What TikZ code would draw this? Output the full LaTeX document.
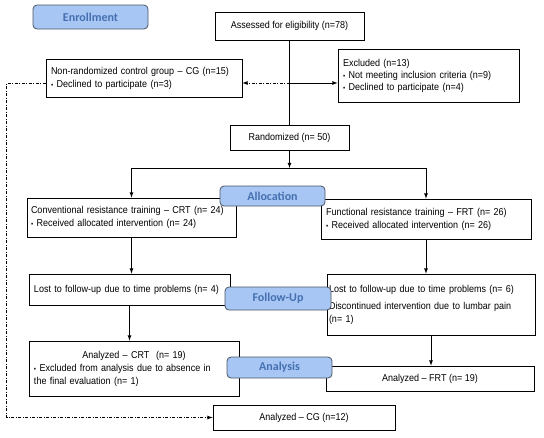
\documentclass[tikz,border=0pt]{standalone}
\usepackage{fontspec}
\setmainfont[FakeStretch=0.9]{Liberation Sans}
\newfontfamily\labelfont{Carlito}
\usepackage{tikz}

\definecolor{labelfill}{HTML}{A8C6F4}
\definecolor{labeldraw}{HTML}{4A5663}
\definecolor{labeltext}{HTML}{4470B0}
\newcommand{\bul}{{\scriptsize\textbullet}\ }

\tikzset{
  box/.style={draw, thick, fill=white, inner xsep=5pt, align=left,
    font=\fontsize{10}{13}\selectfont},
  phase/.style={draw=labeldraw, thick, fill=labelfill, rounded corners=4pt,
    text=labeltext, font=\labelfont\bfseries\fontsize{12}{14}\selectfont},
  dashdot/.style={dash pattern=on 3pt off 1.5pt on 1pt off 1.5pt}
}

\begin{document}
\begin{tikzpicture}[x=1pt, y=-1pt, >=latex, thick]
    \useasboundingbox (0,0) rectangle (544,437);

    % Define nodes
    \node[box, minimum width=149pt, minimum height=28pt, align=center] (assessed) at (289.5,26) {Assessed for eligibility (n=78)};
    \node[box, text width=186pt, minimum height=38pt] (nonrand) at (144,78) {Non-randomized control group -- CG (n=15)\\ \bul Declined to participate (n=3)};
    \node[box, text width=171pt, minimum height=53pt, font=\fontsize{10}{12}\selectfont] (excluded) at (428.5,75.5) {Excluded (n=13)\\ \bul Not meeting inclusion criteria (n=9)\\ \bul Declined to participate (n=4)};
    \node[box, minimum width=119pt, minimum height=25pt, align=center] (random) at (289.5,137.5) {Randomized (n= 50)};

    \node[box, text width=201pt, minimum height=39pt, inner xsep=4pt] (crt) at (131.5,217.5) {Conventional resistance training -- CRT (n= 24)\\ \bul Received allocated intervention (n= 24)};
    \node[box, text width=200pt, minimum height=40pt] (frt) at (426,219) {Functional resistance training -- FRT (n= 26)\\ \bul Received allocated intervention (n= 26)};

    \node[box, text width=191pt, minimum height=31pt] (lostcrt) at (129.5,289.5) {Lost to follow-up due to time problems (n= 4)};
    \node[box, text width=204pt, minimum height=61pt, inner xsep=2pt] (lostfrt) at (431,304.5) {Lost to follow-up due to time problems (n= 6)\\[4pt] Discontinued intervention due to lumbar pain\\ (n= 1)};

    \node[box, text width=200pt, minimum height=55pt] (anacrt) at (134,368.5) {\makebox[\linewidth]{Analyzed -- CRT\ \ (n= 19)}\\ \bul Excluded from analysis due to absence in\\ the final evaluation (n= 1)};
    \node[box, minimum width=208pt, minimum height=25pt, align=center] (anafrt) at (430,378.5) {Analyzed -- FRT (n= 19)};
    \node[box, minimum width=182pt, minimum height=25pt, align=center] (anacg) at (304,417.5) {Analyzed -- CG (n=12)};

    \coordinate (branch) at (289.5,83);
    \coordinate (split) at (289.5,168);

    % Draw arrows
    \draw (assessed) -- (random);
    \draw[->] (branch) -- (branch -| excluded.west);
    \draw[->, dashdot] (branch) -- (branch -| nonrand.east);
    \draw[->] (random) -- (split);
    \draw[->] (split) -| (crt.north);
    \draw[->] (split) -| (frt.north);
    \draw[->] (crt) -- (crt |- lostcrt.north);
    \draw[->] (frt) -- (frt |- lostfrt.north);
    \draw[->] (lostcrt) -- (lostcrt |- anacrt.north);
    \draw[->] (lostfrt) -- (lostfrt |- anafrt.north);
    \draw[->, dashdot] (nonrand.west |- branch) -- ++(-39,0) |- (anacg.west); % control group goes straight to analysis

    % Phase labels on top
    \node[phase, minimum width=115pt, minimum height=24pt] (enroll) at (90.5,17) {Enrollment};
    \node[phase, minimum width=105pt, minimum height=20pt] (alloc) at (272.5,196) {Allocation};
    \node[phase, minimum width=106pt, minimum height=23pt] (follow) at (278,298.5) {Follow-Up};
    \node[phase, minimum width=105pt, minimum height=21pt] (analysis) at (279.5,367.5) {Analysis};
\end{tikzpicture}
\end{document}
